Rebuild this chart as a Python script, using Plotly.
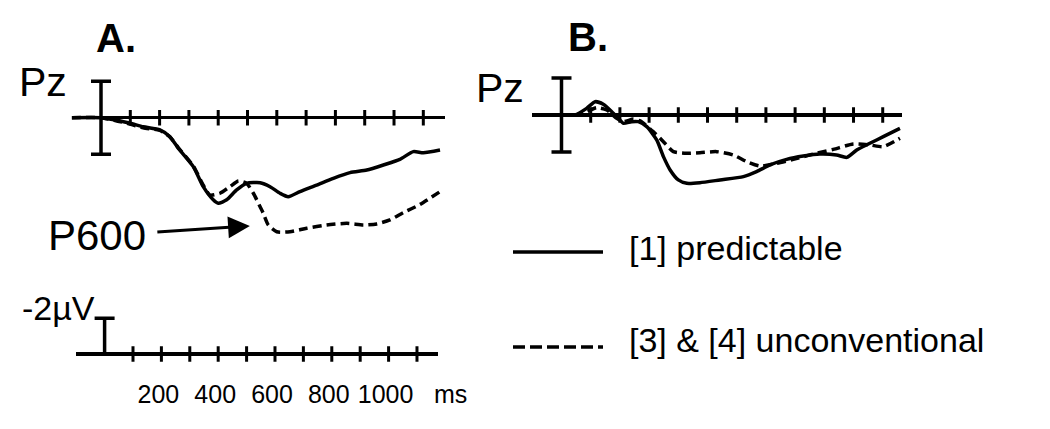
import plotly.graph_objects as go

W, H = 1050, 429

# ---------------- data (time in ms, amplitude in µV; negative plotted up) ----------------
A_TIME_PRED = [-100, 0, 48, 99, 144, 201, 235, 264, 315, 349, 383, 400, 429, 463, 497, 543, 577,
               611, 639, 679, 736, 793, 850, 907, 964, 1020, 1066, 1100, 1157]
A_PRED = [0, 0, 0.13, 0.3, 0.5, 0.67, 1.04, 1.68, 2.68, 3.78, 4.5, 4.69, 4.5, 3.96, 3.6, 3.56, 3.78,
          4.14, 4.33, 4.05, 3.69, 3.32, 3.01, 2.87, 2.59, 2.28, 1.86, 1.92, 1.77]

A_TIME_UNCONV = [-100, 0, 48, 99, 144, 201, 235, 264, 315, 349, 372, 406, 440, 469, 497, 520, 543,
                 554, 571, 600, 645, 702, 770, 839, 895, 941, 986, 1032, 1089, 1157]
A_UNCONV = [0, 0, 0.15, 0.35, 0.55, 0.7, 1.05, 1.65, 2.65, 3.7, 4.24, 4.14, 3.78, 3.47, 3.6, 4.14, 4.88,
            5.24, 5.88, 6.25, 6.25, 6.06, 5.88, 5.79, 5.88, 5.82, 5.6, 5.2, 4.75, 4.05]

B_TIME_PRED = [-100, 0, 46, 86, 115, 143, 172, 200, 212, 240, 263, 292, 326, 349, 372, 400, 429, 474,
               543, 623, 668, 714, 771, 828, 885, 942, 977, 1011, 1056, 1102, 1159]
B_PRED = [0, 0, 0, -0.36, -0.72, -0.58, -0.18, 0.27, 0.45, 0.36, 0.36, 0.63, 1.35, 2.25, 2.97, 3.51,
          3.69, 3.66, 3.51, 3.33, 3.06, 2.7, 2.4, 2.22, 2.11, 2.16, 2.29, 1.89, 1.53, 1.17, 0.72]

B_TIME_UNCONV = [-100, 0, 46, 86, 120, 155, 189, 212, 246, 269, 314, 349, 383, 429, 474, 531, 588,
                 634, 680, 737, 794, 862, 931, 999, 1056, 1102, 1159]
B_UNCONV = [0, 0, 0, -0.18, -0.4, -0.27, 0.18, 0.36, 0.22, 0.32, 0.9, 1.44, 1.98, 2.07, 2.04, 1.98,
            2.16, 2.52, 2.76, 2.61, 2.4, 2.11, 1.86, 1.57, 1.62, 1.71, 1.26]

TICK_TIMES = [100, 200, 300, 400, 500, 600, 700, 800, 900, 1000, 1100]
LABEL_TIMES = [200, 400, 600, 800, 1000]
LABEL_TEXT = ["200", "400", "600", "800", "1000"]
SCALE_UV = 2
SERIES_NAMES = ["[1] predictable", "[3] & [4] unconventional"]
LEGEND_ROWS = [0, 1]

FONT = "Liberation Sans, Arial, sans-serif"
INK = "#000000"


def px_x(a, b):
    return [a / W, b / W]


def px_y(top, bottom):
    return [1 - bottom / H, 1 - top / H]


fig = go.Figure()

solid = dict(color=INK, width=3.5, shape="spline", smoothing=0.6)
dashed = dict(color=INK, width=3.5, dash="9px,5px", shape="spline", smoothing=0.6)
tick_marker = dict(symbol="line-ns", size=11, line=dict(color=INK, width=3), color=INK)


def panel(xa, ya, t1, v1, t2, v2):
    # scale bar (±2 µV) drawn as error bar at time 0
    fig.add_trace(go.Scatter(x=[0], y=[0], mode="markers", xaxis=xa, yaxis=ya,
                             marker=dict(size=1, color=INK), showlegend=False, hoverinfo="skip",
                             error_y=dict(type="data", symmetric=True, array=[SCALE_UV],
                                          width=10, thickness=3.5, color=INK)))
    fig.add_trace(go.Scatter(x=TICK_TIMES, y=[0] * len(TICK_TIMES), mode="markers", xaxis=xa,
                             yaxis=ya, marker=tick_marker, showlegend=False, hoverinfo="skip"))
    fig.add_trace(go.Scatter(x=t1, y=v1, mode="lines", line=solid, xaxis=xa, yaxis=ya,
                             name=SERIES_NAMES[0], showlegend=False))
    fig.add_trace(go.Scatter(x=t2, y=v2, mode="lines", line=dashed, xaxis=xa, yaxis=ya,
                             name=SERIES_NAMES[1], showlegend=False))


panel("x", "y", A_TIME_PRED, A_PRED, A_TIME_UNCONV, A_UNCONV)
panel("x2", "y2", B_TIME_PRED, B_PRED, B_TIME_UNCONV, B_UNCONV)

# calibration axis at bottom-left
fig.add_trace(go.Scatter(x=[0], y=[0], mode="markers", xaxis="x3", yaxis="y3",
                         marker=dict(size=1, color=INK), showlegend=False, hoverinfo="skip",
                         error_y=dict(type="data", symmetric=False, array=[0], arrayminus=[SCALE_UV],
                                      width=10, thickness=3.5, color=INK)))
fig.add_trace(go.Scatter(x=TICK_TIMES, y=[0] * len(TICK_TIMES), mode="markers", xaxis="x3",
                         yaxis="y3", marker=tick_marker, showlegend=False, hoverinfo="skip"))

# legend samples
fig.add_trace(go.Scatter(x=[0, 1], y=[LEGEND_ROWS[0]] * 2, mode="lines", xaxis="x4", yaxis="y4",
                         line=dict(color=INK, width=3.5), showlegend=False, hoverinfo="skip"))
fig.add_trace(go.Scatter(x=[0, 1], y=[LEGEND_ROWS[1]] * 2, mode="lines", xaxis="x4", yaxis="y4",
                         line=dict(color=INK, width=3.5, dash="12px,5px"), showlegend=False,
                         hoverinfo="skip"))

hidden_x = dict(showgrid=False, zeroline=False, showticklabels=False, ticks="", showline=False,
                automargin=False)
hidden_y = dict(showgrid=False, zeroline=True, zerolinecolor=INK, zerolinewidth=3.5,
                showticklabels=False, ticks="", showline=False, automargin=False)

fig.update_layout(
    width=W, height=H,
    margin=dict(l=0, r=0, t=0, b=0),
    paper_bgcolor="white", plot_bgcolor="rgba(0,0,0,0)",
    font=dict(family=FONT, color=INK),
    showlegend=False,
    hovermode=False,
    xaxis=dict(hidden_x, domain=px_x(71.7, 445), range=[-100, 1174], anchor="y"),
    yaxis=dict(hidden_y, domain=px_y(62.95, 263.7), range=[8, -3], anchor="x"),
    xaxis2=dict(hidden_x, domain=px_x(532.3, 901.7), range=[-100, 1165], anchor="y2"),
    yaxis2=dict(hidden_y, domain=px_y(59.5, 263), range=[8, -3], anchor="x2"),
    xaxis3=dict(hidden_x, domain=px_x(76.2, 438), range=[-100, 1174], anchor="y3",
                showticklabels=True, tickvals=LABEL_TIMES, ticktext=LABEL_TEXT,
                ticklabelstandoff=5, ticklabelshift=-3,
                tickfont=dict(size=25, family=FONT)),
    yaxis3=dict(hidden_y, domain=px_y(300.45, 371.85), range=[1, -3], anchor="x3"),
    xaxis4=dict(hidden_x, domain=px_x(513, 603), range=[0, 1], anchor="y4"),
    yaxis4=dict(hidden_x, domain=px_y(228.25, 370.75), range=[1.25, -0.25], anchor="x4"),
)

ann = []
ann.append(dict(text="<b>A.</b>", x=116 / W, y=1 - 38 / H, xref="paper", yref="paper",
                xanchor="center", yanchor="middle", showarrow=False, font=dict(size=40)))
ann.append(dict(text="<b>B.</b>", x=588 / W, y=1 - 37 / H, xref="paper", yref="paper",
                xanchor="center", yanchor="middle", showarrow=False, font=dict(size=40)))
ann.append(dict(text="Pz", x=43 / W, y=1 - 82 / H, xref="paper", yref="paper",
                xanchor="center", yanchor="middle", showarrow=False, font=dict(size=41)))
ann.append(dict(text="Pz", x=500 / W, y=1 - 88 / H, xref="paper", yref="paper",
                xanchor="center", yanchor="middle", showarrow=False, font=dict(size=41)))
ann.append(dict(text="P600", x=508, y=5.93, xref="x", yref="y", ax=-153, ay=10,
                showarrow=True, arrowhead=2, arrowsize=1.45, arrowwidth=3, arrowcolor=INK,
                borderpad=11, font=dict(size=42)))
ann.append(dict(text="-2µV", x=0, y=-SCALE_UV, xref="x3", yref="y3", xanchor="right",
                yanchor="middle", xshift=-8, yshift=10, showarrow=False, font=dict(size=34)))
ann.append(dict(text="ms", x=1153, y=1 - 394 / H, xref="x3", yref="paper", xanchor="left",
                yanchor="middle", showarrow=False, font=dict(size=25)))
for row, label, shift in zip(LEGEND_ROWS, SERIES_NAMES, [4, 7]):
    ann.append(dict(text=label, x=1, y=row, xref="x4", yref="y4", xanchor="left",
                    yanchor="middle", xshift=24, yshift=shift, showarrow=False,
                    font=dict(size=34)))
fig.update_layout(annotations=ann)

fig.write_html("out.html", config={"displayModeBar": False, "staticPlot": True},
               post_script="document.body.style.margin='0';document.body.style.padding='0';")
